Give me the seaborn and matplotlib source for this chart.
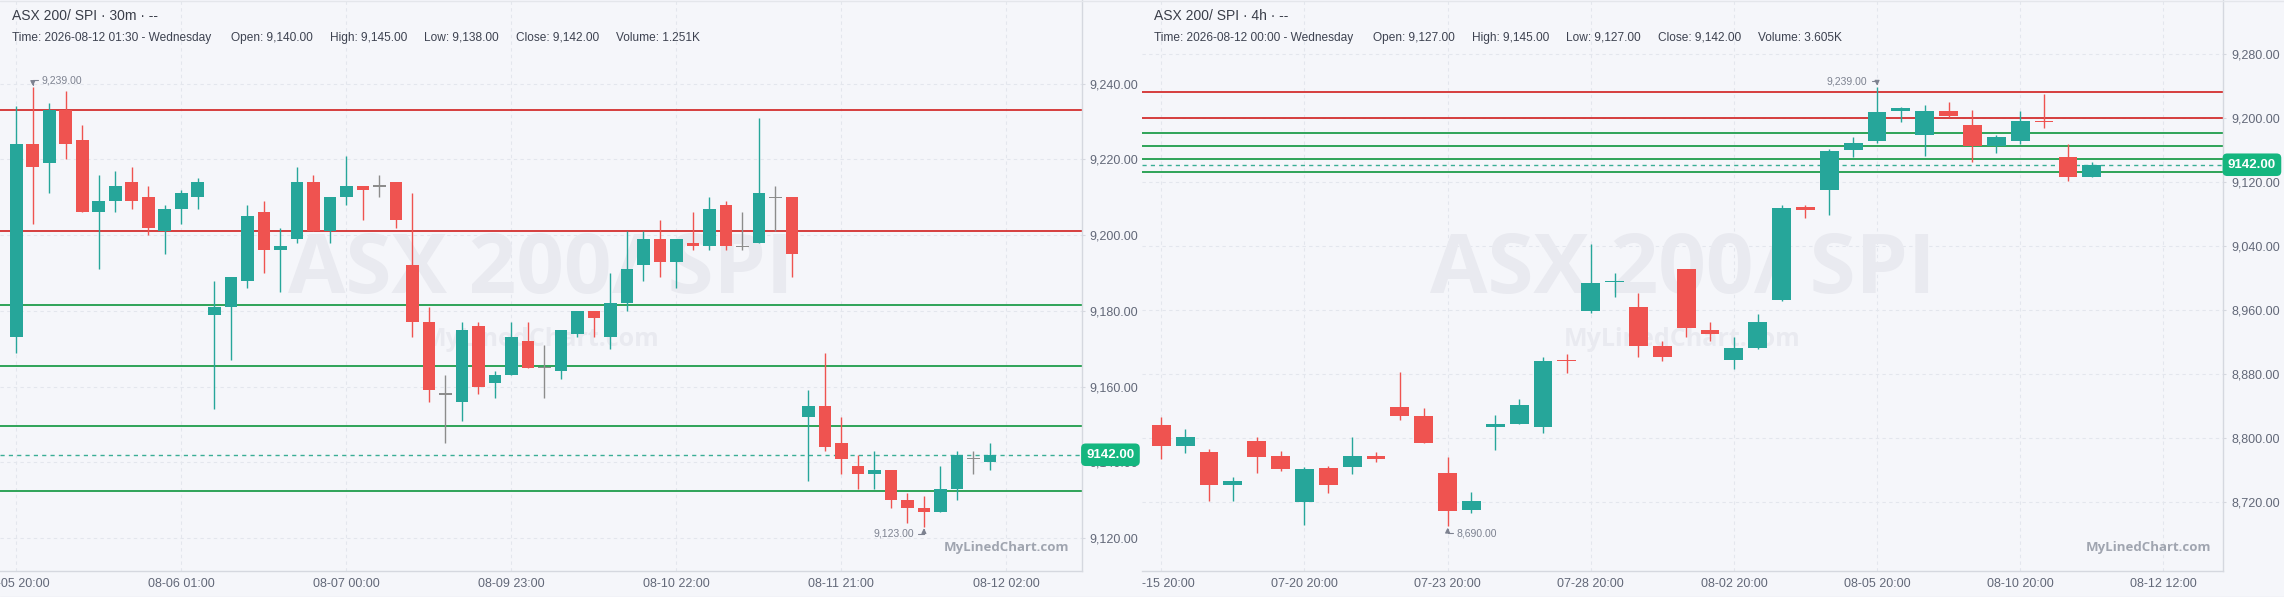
import numpy as np
import pandas as pd
import seaborn as sns
import matplotlib.pyplot as plt
from matplotlib.lines import Line2D
from matplotlib.transforms import Bbox, TransformedBbox, blended_transform_factory

# ---- data: 30m panel ----
m30_open = [9173, 9224, 9219, 9233, 9225, 9206, 9209, 9214, 9210, 9201,
            9207, 9210, 9179, 9181, 9188, 9206, 9196, 9199, 9214, 9201,
            9210, 9213, 9213, 9214, 9192, 9177, 9158, 9156, 9176, 9161,
            9163, 9172, 9165, 9164, 9174, 9180, 9173, 9182, 9192, 9199,
            9193, 9198, 9197, 9208, 9197, 9198, 9210, 9210, 9152, 9155,
            9145, 9139, 9137, 9138, 9130, 9128, 9127, 9133, 9141, 9140]
m30_high = [9234, 9239, 9235, 9238, 9229, 9216, 9217, 9218, 9213, 9208,
            9212, 9215, 9188, 9189, 9208, 9209, 9202, 9218, 9216, 9210,
            9221, 9213, 9216, 9214, 9211, 9181, 9163, 9177, 9177, 9164,
            9177, 9177, 9171, 9175, 9180, 9180, 9190, 9201, 9201, 9204,
            9199, 9206, 9210, 9209, 9206, 9231, 9213, 9210, 9159, 9169,
            9152, 9142, 9143, 9138, 9132, 9131, 9139, 9143, 9143, 9145]
m30_low = [9169, 9203, 9211, 9220, 9206, 9191, 9206, 9207, 9200, 9195,
           9203, 9207, 9154, 9167, 9186, 9190, 9185, 9198, 9201, 9198,
           9208, 9204, 9210, 9202, 9173, 9156, 9145, 9151, 9158, 9157,
           9163, 9165, 9157, 9162, 9173, 9173, 9170, 9180, 9188, 9189,
           9186, 9196, 9196, 9196, 9196, 9198, 9201, 9189, 9135, 9143,
           9137, 9133, 9133, 9128, 9124, 9123, 9127, 9130, 9137, 9138]
m30_close = [9224, 9218, 9233, 9224, 9206, 9209, 9213, 9209, 9202, 9207,
             9211, 9214, 9181, 9189, 9205, 9196, 9197, 9214, 9201, 9210,
             9213, 9212, 9213, 9204, 9177, 9159, 9158, 9175, 9160, 9163,
             9173, 9165, 9165, 9175, 9180, 9178, 9182, 9191, 9199, 9193,
             9199, 9197, 9207, 9197, 9197, 9211, 9210, 9195, 9155, 9144,
             9141, 9137, 9138, 9130, 9128, 9127, 9133, 9142, 9141, 9142]
m30_tick_pos = [0, 10, 20, 30, 40, 50, 60]
m30_tick_labels = ['08-05 20:00', '08-06 01:00', '08-07 00:00', '08-09 23:00',
                   '08-10 22:00', '08-11 21:00', '08-12 02:00']
m30_yticks = [9120, 9140, 9160, 9180, 9200, 9220, 9240]

# ---- data: 4h panel ----
h4_open = [8817, 8790, 8783, 8742, 8797, 8778, 8720, 8763, 8764, 8778,
           8839, 8828, 8756, 8710, 8814, 8818, 8814, 8898, 8959, 8995,
           8964, 8915, 9012, 8935, 8898, 8913, 8973, 9089, 9110, 9160,
           9172, 9209, 9179, 9209, 9192, 9166, 9172, 9197, 9152, 9127]
h4_high = [8827, 8812, 8786, 8751, 8802, 8784, 8764, 8765, 8802, 8783,
           8883, 8838, 8776, 8733, 8829, 8849, 8901, 8905, 9043, 9007,
           8981, 8921, 9012, 8945, 8926, 8955, 9092, 9092, 9162, 9177,
           9239, 9214, 9217, 9220, 9210, 9179, 9209, 9230, 9168, 9145]
h4_low = [8774, 8782, 8721, 8722, 8756, 8759, 8692, 8732, 8755, 8770,
          8823, 8794, 8690, 8707, 8785, 8818, 8807, 8882, 8957, 8977,
          8902, 8896, 8927, 8921, 8886, 8912, 8971, 9076, 9079, 9152,
          9169, 9195, 9153, 9202, 9145, 9157, 9168, 9188, 9122, 9127]
h4_close = [8790, 8802, 8741, 8747, 8777, 8761, 8762, 8742, 8778, 8774,
            8828, 8794, 8709, 8721, 8818, 8842, 8897, 8896, 8994, 8997,
            8915, 8902, 8938, 8930, 8913, 8945, 9088, 9085, 9159, 9169,
            9208, 9213, 9209, 9203, 9166, 9177, 9197, 9195, 9127, 9142]
h4_tick_pos = [0, 6, 12, 18, 24, 30, 36, 42]
h4_tick_labels = ['07-15 20:00', '07-20 20:00', '07-23 20:00', '07-28 20:00',
                  '08-02 20:00', '08-05 20:00', '08-10 20:00', '08-12 12:00']
h4_yticks = [8720, 8800, 8880, 8960, 9040, 9120, 9200, 9280]

# drawn levels, shared by both panels
red_levels = [9233, 9201]
green_levels = [9181.5, 9165.5, 9149.5, 9132.3]
last_price = 9142

m30_info = ['Time: 2026-08-12 01:30 - Wednesday', 'Open: 9,140.00', 'High: 9,145.00',
            'Low: 9,138.00', 'Close: 9,142.00', 'Volume: 1.251K']
h4_info = ['Time: 2026-08-12 00:00 - Wednesday', 'Open: 9,127.00', 'High: 9,145.00',
           'Low: 9,127.00', 'Close: 9,142.00', 'Volume: 3.605K']

BG = '#f5f6fa'
UP = '#26a69a'
DOWN = '#ef5350'
FLAT = '#8c8c8c'
TXT = '#626878'
AXC = '#d5d8df'

sns.set_theme(style='whitegrid', rc={
    'figure.facecolor': BG, 'axes.facecolor': BG, 'savefig.facecolor': BG,
    'grid.color': '#e3e6ed', 'grid.linestyle': (0, (3, 3)), 'grid.linewidth': 0.8,
})
plt.rcParams['font.family'] = ['Liberation Sans', 'DejaVu Sans']

W, H = 2284, 597
fig = plt.figure(figsize=(W / 100, H / 100), dpi=100)


def candles(ax, o, h, l, c, width, minh):
    df = pd.DataFrame({'open': o, 'high': h, 'low': l, 'close': c})
    df['x'] = np.arange(len(df))
    df['col'] = np.where(df.close > df.open, UP, np.where(df.close < df.open, DOWN, FLAT))
    ax.vlines(df.x, df.low, df.high, colors=df.col, linewidth=1.0, zorder=3)
    diff = (df.close - df.open).abs()
    body = diff.clip(lower=minh)
    bottom = np.minimum(df.open, df.close) - np.where(diff < minh, (minh - diff) / 2, 0)
    ax.bar(df.x, body, bottom=bottom, width=width, color=df.col, linewidth=0, zorder=4)
    return df


def panel(ax, o, h, l, c, tpos, tlab, yticks, xlim, ylim, width, minh):
    df = candles(ax, o, h, l, c, width, minh)
    for lv in red_levels:
        ax.axhline(lv, color='#d32f2f', lw=1.3, zorder=2)
    for lv in green_levels:
        ax.axhline(lv, color='#1f9d4c', lw=1.3, zorder=2)
    ax.axhline(last_price, color='#3aae95', lw=1.0, ls=(0, (3, 3)), zorder=2)
    ax.set_xlim(*xlim)
    ax.set_ylim(*ylim)
    ax.set_xticks(tpos)
    ax.set_xticklabels(tlab)
    ax.set_yticks(yticks)
    ax.set_yticklabels([f'{v:,.2f}' for v in yticks])
    ax.yaxis.tick_right()
    ax.tick_params(axis='y', length=2, width=0.8, color=AXC, pad=4,
                   labelsize=9, labelcolor=TXT)
    ax.tick_params(axis='x', length=2, width=0.8, color=AXC, pad=3,
                   labelsize=9, labelcolor=TXT)
    ax.grid(True)
    for s in ['left', 'top']:
        ax.spines[s].set_visible(False)
    for s in ['right', 'bottom']:
        ax.spines[s].set_color(AXC)
        ax.spines[s].set_linewidth(1.0)
    # watermarks
    ax.text(0.5, 0.525, 'ASX 200/ SPI', transform=ax.transAxes, ha='center', va='center',
            fontsize=60, fontweight='bold', family='Open Sans', color='#e9eaf0', zorder=1)
    ax.text(0.5, 0.405, 'MyLinedChart.com', transform=ax.transAxes, ha='center', va='center',
            fontsize=18, fontweight='bold', family='Open Sans', color='#e9eaf0', zorder=1)
    ax.text(0.989, 0.042, 'MyLinedChart.com', transform=ax.transAxes, ha='right', va='center',
            fontsize=9.5, fontweight='bold', family='Open Sans', color='#a0a5b0', zorder=5)
    # last price badge
    tr = blended_transform_factory(ax.transAxes, ax.transData)
    ax.text(1.0045, last_price, f'{last_price:.2f}', transform=tr, ha='left', va='center',
            fontsize=9.5, fontweight='bold', color='white', zorder=10, clip_on=False,
            bbox=dict(boxstyle='round,pad=0.4,rounding_size=0.35', fc='#14b67f', ec='none'))
    return df


def mark(ax, x, y, text, dx, dy):
    side = 1 if dx > 0 else -1
    ax.annotate('', xy=(x, y), xytext=(dx * 0.55, dy), textcoords='offset pixels',
                arrowprops=dict(arrowstyle='-|>,head_length=0.25,head_width=0.12',
                                connectionstyle='angle,angleA=0,angleB=90',
                                color='#7d8290', lw=0.8, shrinkA=0, shrinkB=1), zorder=6)
    ax.annotate(text, xy=(x, y), xytext=(dx, dy), textcoords='offset pixels',
                ha='left' if side > 0 else 'right', va='center', fontsize=7.5,
                color='#7d8290', zorder=6)


# panel geometry in pixels
y_axis_px = 571
ax1 = fig.add_axes([0, (H - y_axis_px) / H, 1081.5 / W, y_axis_px / H])
ax2 = fig.add_axes([1142 / W, (H - y_axis_px) / H, (2223 - 1142) / W, y_axis_px / H])
ax2.patch.set_visible(False)

d1 = panel(ax1, m30_open, m30_high, m30_low, m30_close, m30_tick_pos, m30_tick_labels,
           m30_yticks, (-0.99, 64.55), (9111.3, 9262.1), 0.77, 0.4)
d2 = panel(ax2, h4_open, h4_high, h4_low, h4_close, h4_tick_pos, h4_tick_labels,
           h4_yticks, (-0.81, 44.5), (8634, 9348), 0.79, 1.9)

# high / low markers
i = int(np.argmax(m30_high)); mark(ax1, i, m30_high[i], f'{m30_high[i]:,.2f}', 9, 7)
i = int(np.argmin(m30_low)); mark(ax1, i, m30_low[i], f'{m30_low[i]:,.2f}', -10, -7)
i = int(np.argmax(h4_high)); mark(ax2, i, h4_high[i], f'{h4_high[i]:,.2f}', -10, 6)
i = int(np.argmin(h4_low)); mark(ax2, i, h4_low[i], f'{h4_low[i]:,.2f}', 9, -7)

# clip the second panel's tick labels at its left border
clip = TransformedBbox(Bbox([[0.5, 0], [1, 1]]), fig.transFigure)
for lab in ax2.get_xticklabels():
    lab.set_clip_on(True)
    lab.set_clip_box(clip)

# thin frame lines at top and bottom of the picture
for yy in [0.5 / H, 1 - 0.5 / H]:
    fig.add_artist(Line2D([0, 1], [yy, yy], transform=fig.transFigure, color='#e4e6eb', lw=1))

# headers
info_x1 = [12, 231, 330, 424, 516, 616]
info_x2 = [1154, 1373, 1472, 1566, 1658, 1758]
fig.text(12 / W, 1 - 16 / H, 'ASX 200/ SPI · 30m · --', fontsize=10, color='#3a3e49', va='center')
fig.text(1154 / W, 1 - 16 / H, 'ASX 200/ SPI · 4h · --', fontsize=10, color='#3a3e49', va='center')
for xs, txts in [(info_x1, m30_info), (info_x2, h4_info)]:
    for xp, t in zip(xs, txts):
        fig.text(xp / W, 1 - 38 / H, t, fontsize=8.6, color='#3d4250', va='center')

fig.savefig('out.png', dpi=100)
